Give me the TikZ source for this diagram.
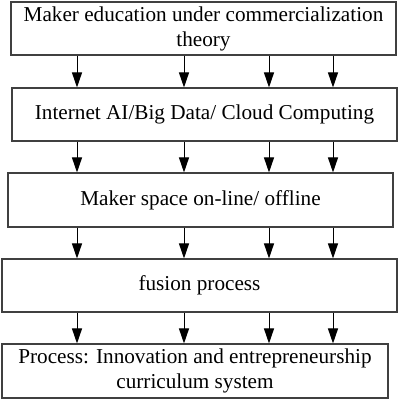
\documentclass[tikz,border=0pt]{standalone}
\usepackage{fontspec}
\setmainfont{Liberation Serif}
\usetikzlibrary{arrows.meta, positioning}
\tikzstyle{stage} = [rectangle, draw=black!75, line width=1.1pt, minimum height=53pt, align=center, inner sep=0pt, font=\fontsize{21.2}{25}\selectfont]
\tikzstyle{arrow} = [line width=1pt, -{Triangle[length=15pt,width=10pt]}]

\begin{document}
\begin{tikzpicture}[x=1pt,y=-1pt]
    \useasboundingbox (0,0) rectangle (400,400);

    \node[stage, minimum width=385pt] (edu) at (203.5,28.5) {Maker education under commercialization\\theory};
    \node[stage, minimum width=385pt] (tech) at (204.5,114.5) {Internet AI/Big Data/ Cloud Computing};
    \node[stage, minimum width=385pt, minimum height=54pt] (space) at (200.5,200) {Maker space on-line/ offline};
    \node[stage, minimum width=395pt] (fusion) at (199.5,285.5) {fusion process};
    \node[stage, minimum width=386pt, minimum height=54pt] (course) at (195,371) {Process: Innovation and entrepreneurship\\curriculum system};

    % four arrows between each pair of stages
    \foreach \a/\b in {edu/tech, tech/space, space/fusion, fusion/course}
        \foreach \x in {77,184,269,333}
            \draw[arrow] (\x,0 |- \a.south) -- (\x,0 |- \b.north);

\end{tikzpicture}
\end{document}
